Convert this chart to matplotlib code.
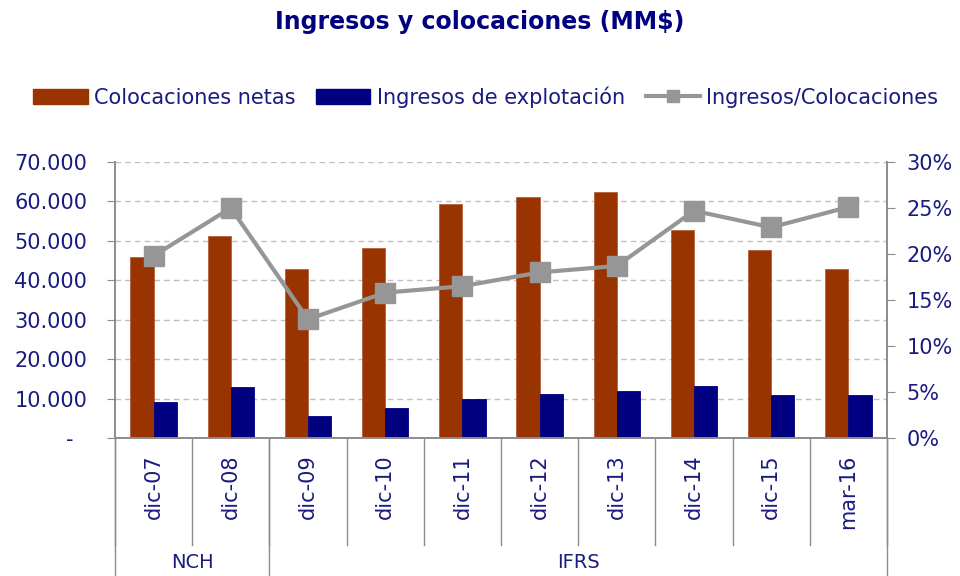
import matplotlib
matplotlib.use("Agg")
import matplotlib.pyplot as plt
from matplotlib.ticker import FuncFormatter, MultipleLocator
from matplotlib.lines import Line2D
from matplotlib.patches import Patch
import matplotlib.transforms as mtransforms

categories = ["dic-07", "dic-08", "dic-09", "dic-10", "dic-11", "dic-12", "dic-13", "dic-14", "dic-15", "mar-16"]
colocaciones = [46000, 51300, 42900, 48300, 59400, 61200, 62500, 52800, 47700, 42800]
ingresos = [9200, 12850, 5650, 7700, 9900, 11250, 11900, 13200, 10800, 10800]
ratio = [19.8, 25.0, 12.9, 15.8, 16.5, 18.0, 18.7, 24.7, 22.9, 25.1]
groups = [("NCH", 0, 1), ("IFRS", 2, 9)]

RED = "#993300"
BLUE = "#000080"
GRAY = "#969696"
TXT = "#1a1a80"
AX = "#8c8c8c"

plt.rcParams['font.family'] = ['DejaVu Sans']

fig = plt.figure(figsize=(9.6, 5.76), dpi=100)
ax = fig.add_axes([115/960, 1-438/576, (887-115)/960, 276/576])
ax2 = ax.twinx()

x = list(range(len(categories)))
w = 0.3
ax.bar([i - w/2 for i in x], colocaciones, width=w, color=RED, edgecolor="#b5603a", linewidth=0.6, zorder=2)
ax.bar([i + w/2 for i in x], ingresos, width=w, color=BLUE, edgecolor=BLUE, linewidth=0.6, zorder=2)
ax2.plot(x, ratio, color=GRAY, linewidth=3, marker="s", markersize=14, zorder=3)

ax.set_xlim(-0.5, len(categories) - 0.5)
ax.set_ylim(0, 70000)
ax2.set_ylim(0, 30)
ax.yaxis.set_major_locator(MultipleLocator(10000))
ax2.yaxis.set_major_locator(MultipleLocator(5))

def lfmt(v, pos):
    if v == 0:
        return "-  "
    return f"{int(v):,}".replace(",", ".")
ax.yaxis.set_major_formatter(FuncFormatter(lfmt))
ax2.yaxis.set_major_formatter(FuncFormatter(lambda v, p: f"{int(v)}%"))

ax.grid(axis="y", linestyle=(0, (4, 3)), color="#c0c0c0", linewidth=1, zorder=0)
ax.set_axisbelow(True)

for a in (ax, ax2):
    a.spines["top"].set_visible(False)
    for s in ("left", "right", "bottom"):
        a.spines[s].set_color(AX)
        a.spines[s].set_linewidth(1.2)

ax.tick_params(axis="y", colors=AX, labelcolor=TXT, labelsize=15, length=6, direction="out", pad=14)
ax2.tick_params(axis="y", colors=AX, labelcolor=TXT, labelsize=15, length=6, direction="out", pad=8)
ax.set_xticks(x)
ax.set_xticklabels(categories, rotation=90, fontsize=15, color=TXT, va="top")
ax.tick_params(axis="x", length=0, pad=12)

trans = mtransforms.blended_transform_factory(ax.transData, ax.transAxes)
for b in range(len(categories) + 1):
    xb = b - 0.5
    ax.add_line(Line2D([xb, xb], [0, -107/276], transform=trans, color=AX, linewidth=1, clip_on=False))
group_edges = sorted(set([-0.5] + [g[2] + 0.5 for g in groups]))
for xb in group_edges:
    ax.add_line(Line2D([xb, xb], [0, -140/276], transform=trans, color=AX, linewidth=1, clip_on=False))
for name, s, e in groups:
    ax.text((s + e) / 2, -124/276, name, transform=trans, ha="center", va="center", fontsize=14, color=TXT)

fig.text(0.5, 1-22/576, "Ingresos y colocaciones (MM$)", ha="center", va="center",
         fontsize=17, fontweight="bold", color=BLUE)

handles = [Patch(facecolor=RED, edgecolor=RED),
           Patch(facecolor=BLUE, edgecolor=BLUE),
           Line2D([0], [0], color=GRAY, linewidth=3, marker="s", markersize=9)]
labels = ["Colocaciones netas", "Ingresos de explotación", "Ingresos/Colocaciones"]
leg = fig.legend(handles, labels, loc="center", bbox_to_anchor=(0.506, 1-97/576), ncol=3, frameon=False,
                 fontsize=15, handlelength=2.6, handleheight=0.7, handletextpad=0.3, columnspacing=1.0)
for t in leg.get_texts():
    t.set_color(TXT)

fig.savefig("out.png", dpi=100)
